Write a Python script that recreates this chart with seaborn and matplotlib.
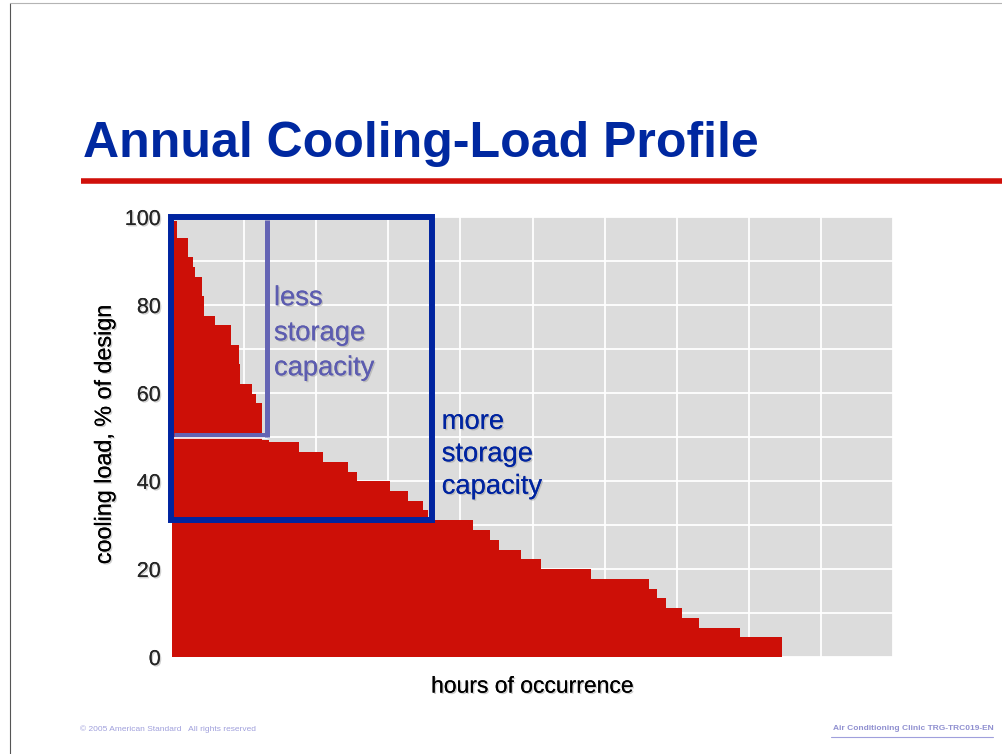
import matplotlib
matplotlib.use('Agg')
import matplotlib.pyplot as plt
import matplotlib.patheffects as pe
from matplotlib.lines import Line2D
from matplotlib.patches import Rectangle
import numpy as np
import seaborn as sns

# step profile: hour edges (cumulative) and cooling load (% of design) in each step
hour_edges = [0, 60, 191, 255, 279, 364, 385, 522, 717, 814, 826, 972, 1021, 1097,
              1178, 1539, 1831, 2135, 2244, 2645, 2864, 3046, 3114, 3654, 3864, 3973,
              4236, 4480, 5087, 5796, 5889, 6002, 6197, 6399, 6901, 7415]
load_pct = [99, 95.3, 91, 88.7, 86.4, 82, 77.6, 75.5, 70.9, 66.5, 62, 59.8, 57.7,
            49.4, 48.9, 46.6, 44.3, 42.1, 40, 37.8, 35.5, 33.3, 31.1, 28.9, 26.6,
            24.3, 22.3, 20, 17.7, 15.5, 13.4, 11.1, 8.9, 6.6, 4.5]
year_hours = 8760
y_ticks = [0, 20, 40, 60, 80, 100]

# storage boxes
less_box_hours = 1150     # purple line: hours covered by less storage
less_box_load = 50.5
more_box = (-18, 31.1, 3163, 100.1)   # x0, y0, x1, y1

RED = '#cd0f07'
BLUE = '#0024a0'
PURPLE = '#6464b4'

sns.set_style('whitegrid', {'axes.facecolor': '#dcdcdc', 'grid.color': 'white'})
plt.rcParams['font.family'] = ['Liberation Sans', 'DejaVu Sans']

fig = plt.figure(figsize=(10.02, 7.54), dpi=100)
ax = fig.add_axes([172 / 1002, 1 - 657 / 754, 721 / 1002, 440 / 754])

mids = [(a + b) / 2 for a, b in zip(hour_edges[:-1], hour_edges[1:])]
sns.histplot(x=mids, weights=load_pct, bins=hour_edges, element='step', fill=True,
             color=RED, alpha=1, linewidth=0, ax=ax)

ax.set_xlim(0, year_hours)
ax.set_ylim(0, 100)
ax.set_xticks(np.linspace(0, year_hours, 11))
ax.set_xticklabels([])
ax.set_yticks(y_ticks)
ax.set_yticks([10, 30, 50, 70, 90], minor=True)
ax.grid(which='both', color='white', linewidth=1.3)
ax.set_axisbelow(True)
ax.tick_params(axis='both', which='both', length=0)
ax.tick_params(axis='y', labelsize=15.5, pad=8)
for s in ax.spines.values():
    s.set_visible(False)

shadow = [pe.withSimplePatchShadow(offset=(1, -1), shadow_rgbFace='#888888', alpha=0.4),
          pe.Normal()]
for lab in ax.get_yticklabels():
    lab.set_path_effects(shadow)

ax.set_ylabel('cooling load, % of design', fontsize=16.8, color='black')
ax.yaxis.set_label_coords(-0.078, 0.507)
ax.yaxis.label.set_path_effects(shadow)
ax.set_xlabel('hours of occurrence', fontsize=16.5, color='black')
ax.xaxis.set_label_coords(0.5, -0.04)
ax.xaxis.label.set_path_effects(shadow)

# less storage capacity marker
ax.plot([25, less_box_hours], [less_box_load, less_box_load], color=PURPLE, lw=3.6,
        solid_capstyle='butt', zorder=5)
ax.plot([25, less_box_hours], [49.7, 49.7], color='white', lw=1.2, zorder=5)
ax.plot([less_box_hours, less_box_hours], [49.9, 99.3], color=PURPLE, lw=3.6,
        solid_capstyle='butt', zorder=5)
ax.text(1239, 84.5, 'less\nstorage\ncapacity', color='#5c5cb0', fontsize=19.7,
        va='top', ha='left', linespacing=1.45, path_effects=shadow, zorder=6)

# more storage capacity box
x0, y0, x1, y1 = more_box
ax.add_patch(Rectangle((x0, y0), x1 - x0, y1 - y0, fill=False, edgecolor=BLUE,
                       linewidth=4.3, clip_on=False, zorder=7))
ax.text(3277, 56.4, 'more\nstorage\ncapacity', color=BLUE, fontsize=19.7,
        va='top', ha='left', linespacing=1.32, path_effects=shadow, zorder=6)

# slide decoration
fig.add_artist(Line2D([0.0095, 0.0095], [0, 0.9954], color='#555555', lw=0.8))
fig.add_artist(Line2D([0.0095, 1], [0.9954, 0.9954], color='#b4b4b4', lw=0.8))
fig.text(83 / 1002, 1 - 157 / 754, 'Annual Cooling-Load Profile', fontsize=36,
         weight='bold', color='#0028a0', va='baseline', ha='left')
fig.add_artist(Line2D([81 / 1002, 1], [1 - 180.5 / 754] * 2, color='#d0100a', lw=4,
                      solid_capstyle='butt'))
fig.text(80 / 1002, 1 - 729 / 754, '\u00a9 2005 American Standard   All rights reserved',
         fontsize=6, color='#a0a0dc', va='center', ha='left')
fig.text(833 / 1002, 1 - 729 / 754, 'Air Conditioning Clinic TRG-TRC019-EN',
         fontsize=6, weight='bold', color='#9090d0', va='center', ha='left')
fig.add_artist(Line2D([831 / 1002, 993 / 1002], [1 - 737 / 754] * 2, color='#a0a0dc', lw=0.8))

fig.savefig('out.png', dpi=100)
